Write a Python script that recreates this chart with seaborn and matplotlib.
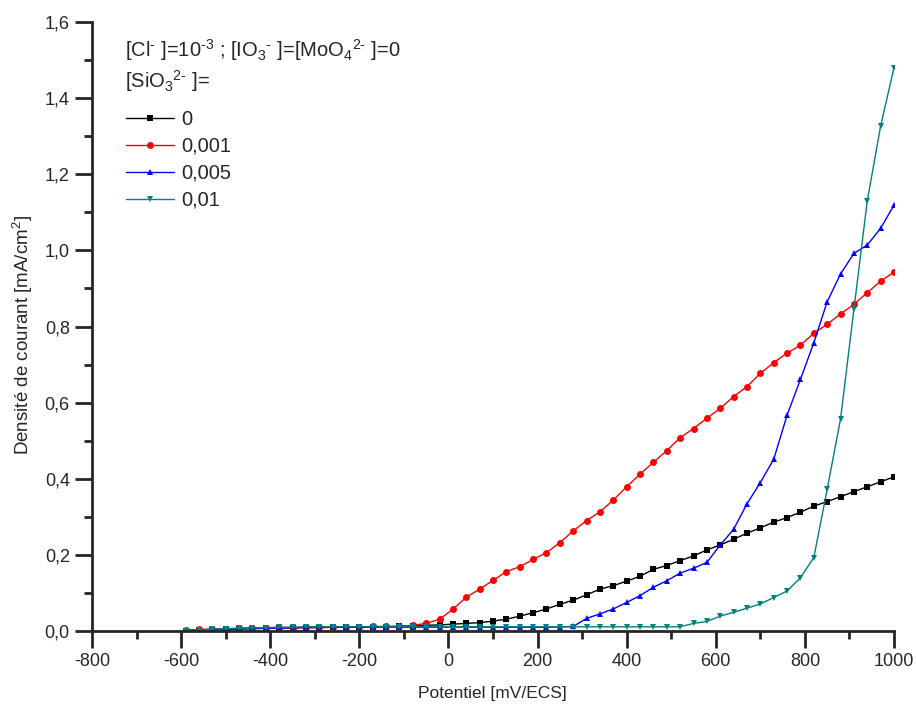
import numpy as np
import pandas as pd
import matplotlib
matplotlib.use("Agg")
import matplotlib.pyplot as plt
from matplotlib.ticker import MultipleLocator, FuncFormatter
import seaborn as sns

potential = list(range(-590, 1001, 30))

j_0 = [0.001, 0.002, 0.003, 0.004, 0.005, 0.006, 0.007, 0.008, 0.008, 0.009,
       0.009, 0.010, 0.010, 0.010, 0.011, 0.011, 0.012, 0.013,
       0.015, 0.016, 0.018, 0.020, 0.022, 0.026, 0.031, 0.039, 0.048, 0.058,
       0.070, 0.081, 0.095, 0.110, 0.119, 0.131, 0.144, 0.162, 0.172, 0.185,
       0.197, 0.213, 0.226, 0.241, 0.257, 0.271, 0.286, 0.298, 0.312, 0.328,
       0.340, 0.353, 0.366, 0.379, 0.392, 0.405]

j_0001 = [0.002, 0.004, 0.005, 0.006, 0.007, 0.008, 0.008, 0.009, 0.009, 0.010,
          0.010, 0.010, 0.011, 0.011, 0.012, 0.012, 0.013, 0.015,
          0.020, 0.031, 0.057, 0.089, 0.110, 0.133, 0.156, 0.169, 0.188, 0.206,
          0.232, 0.263, 0.290, 0.313, 0.344, 0.379, 0.412, 0.443, 0.474, 0.508,
          0.532, 0.559, 0.585, 0.616, 0.642, 0.677, 0.705, 0.730, 0.751, 0.782,
          0.806, 0.833, 0.858, 0.889, 0.919, 0.943]

j_0005 = [0.001, 0.003, 0.004, 0.005, 0.006, 0.007, 0.008, 0.008, 0.009, 0.009,
          0.009, 0.010, 0.010, 0.010, 0.010, 0.010, 0.010, 0.010,
          0.010, 0.010, 0.011, 0.010, 0.010, 0.010, 0.010, 0.010, 0.010, 0.010,
          0.011, 0.012, 0.033, 0.045, 0.058, 0.075, 0.093, 0.115, 0.132, 0.152,
          0.165, 0.180, 0.226, 0.267, 0.334, 0.390, 0.451, 0.567, 0.661, 0.757,
          0.865, 0.938, 0.992, 1.014, 1.058, 1.119]

j_001 = [0.001, 0.003, 0.005, 0.006, 0.007, 0.008, 0.009, 0.010, 0.010, 0.011,
         0.011, 0.011, 0.011, 0.011, 0.011, 0.011, 0.011, 0.011,
         0.011, 0.011, 0.011, 0.011, 0.011, 0.011, 0.011, 0.011, 0.011, 0.011,
         0.011, 0.011, 0.011, 0.011, 0.011, 0.011, 0.011, 0.011, 0.011, 0.011,
         0.020, 0.025, 0.039, 0.049, 0.060, 0.071, 0.088, 0.105, 0.140, 0.193,
         0.372, 0.557, 0.845, 1.130, 1.327, 1.480]

series_labels = ["0", "0,001", "0,005", "0,01"]
series_values = [j_0, j_0001, j_0005, j_001]
colors = ["#000000", "#FF0000", "#0000FF", "#008080"]
markers = ["s", "o", "^", "v"]

x_ticks = list(range(-800, 1001, 200))
y_ticks = [0.0, 0.2, 0.4, 0.6, 0.8, 1.0, 1.2, 1.4, 1.6]

sns.set_style("ticks")
plt.rcParams["font.family"] = ["Liberation Sans", "DejaVu Sans"]
plt.rcParams["mathtext.fontset"] = "custom"
plt.rcParams["mathtext.rm"] = "Liberation Sans"
plt.rcParams["mathtext.it"] = "Liberation Sans"
plt.rcParams["mathtext.bf"] = "Liberation Sans"
plt.rcParams["axes.unicode_minus"] = False

fig = plt.figure(figsize=(9.16, 7.05), dpi=100)
ax = fig.add_axes([92 / 916, 1 - 631 / 705, (894 - 92) / 916, (631 - 22) / 705])

for lab, vals, c, m in zip(series_labels, series_values, colors, markers):
    df = pd.DataFrame({"Potentiel": potential, "J": vals})
    sns.lineplot(data=df, x="Potentiel", y="J", ax=ax, color=c, marker=m,
                 markersize=5, markeredgewidth=0, linewidth=1.0, label=lab)

ax.set_xlim(-800, 1000)
ax.set_ylim(0, 1.6)
ax.set_xticks(x_ticks)
ax.set_yticks(y_ticks)
ax.xaxis.set_minor_locator(MultipleLocator(100))
ax.yaxis.set_minor_locator(MultipleLocator(0.1))
ax.yaxis.set_major_formatter(FuncFormatter(lambda v, p: f"{v:.1f}".replace(".", ",")))
ax.xaxis.set_major_formatter(FuncFormatter(lambda v, p: f"{int(round(v))}"))
ax.tick_params(which="major", direction="out", length=12, width=2, labelsize=13, pad=4)
ax.tick_params(which="minor", direction="out", length=6, width=2)
for s in ["top", "right"]:
    ax.spines[s].set_visible(False)
for s in ["left", "bottom"]:
    ax.spines[s].set_linewidth(2)

ax.set_xlabel("Potentiel [mV/ECS]", fontsize=12.5)
ax.set_ylabel("Densité de courant [mA/cm$^{2}$]", fontsize=13.5)
ax.xaxis.set_label_coords(0.499, -0.090)
ax.yaxis.set_label_coords(-0.071, 0.486)

fig.text(125 / 916, 1 - 57 / 705,
         r"[Cl$^{\text{-}}$ ]=10$^{\text{-3}}$ ; [IO$_{3}$$^{\text{-}}$ ]=[MoO$_{4}$$^{\text{2-}}$ ]=0",
         fontsize=14.5, va="baseline", ha="left")
fig.text(125 / 916, 1 - 88 / 705, r"[SiO$_{3}$$^{\text{2-}}$ ]=",
         fontsize=14.5, va="baseline", ha="left")

leg = ax.legend(loc="upper left", bbox_to_anchor=(126 / 916, 1 - 110 / 705),
                bbox_transform=fig.transFigure, frameon=False, fontsize=14.5,
                handlelength=2.4, handletextpad=0.33, labelspacing=0.39,
                borderaxespad=0, borderpad=0)

fig.savefig("out.png", dpi=100)
